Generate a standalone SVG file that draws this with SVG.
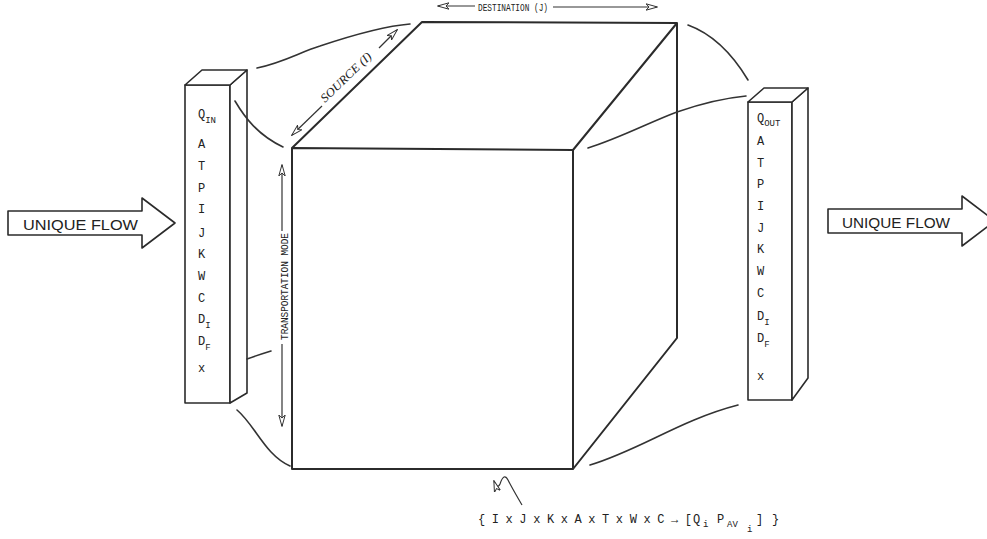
<svg xmlns="http://www.w3.org/2000/svg" width="987" height="539" viewBox="0 0 987 539">
<defs>
<marker id="ah" viewBox="0 0 12 8" refX="11" refY="4" markerWidth="12" markerHeight="8" markerUnits="userSpaceOnUse" orient="auto-start-reverse">
<path d="M0,0.8 L11.5,4 L0,7.2 L3,4 Z" fill="#fff" stroke="#333" stroke-width="1"/>
</marker>
</defs>
<style>
.e{fill:none;stroke:#2b2b2b;stroke-width:2;stroke-linejoin:round}
.b{fill:#fff;stroke:#2b2b2b;stroke-width:1.6;stroke-linejoin:round}
.c{fill:none;stroke:#333;stroke-width:1.6;stroke-linecap:round}
.d{fill:none;stroke:#333;stroke-width:1.2}
.t{font-family:"Liberation Mono",monospace;fill:#222;font-size:12px}
.s{font-size:9px}
.u{font-family:"Liberation Sans",Arial,sans-serif;fill:#222;font-size:15px}
.l{font-family:"Liberation Mono",monospace;fill:#222;font-size:11px}
</style>
<rect width="987" height="539" fill="#fff"/>

<g id="flow-in">
<path class="b" d="M8,211 L142,211 L142,198 L175,223 L142,248 L142,235 L8,235 Z"/>
<text class="u" x="23" y="230" textLength="115" lengthAdjust="spacingAndGlyphs">UNIQUE FLOW</text>
</g>

<g id="flow-out">
<path class="b" d="M828,209 L962,209 L962,196 L995,221 L962,246 L962,233 L828,233 Z"/>
<text class="u" x="842" y="228" textLength="108" lengthAdjust="spacingAndGlyphs">UNIQUE FLOW</text>
</g>

<g id="input-column">
<path class="b" d="M185,85 L230,85 L230,403 L185,403 Z"/>
<path class="b" d="M230,85 L247,70 L247,393 L230,403 Z"/>
<path class="b" d="M185,85 L202,70 L247,70 L230,85 Z"/>
<text class="t" x="198" y="118">Q<tspan class="s" dy="5">IN</tspan></text>
<text class="t" x="198" y="148">A</text>
<text class="t" x="198" y="170">T</text>
<text class="t" x="198" y="192">P</text>
<text class="t" x="198" y="213">I</text>
<text class="t" x="198" y="237">J</text>
<text class="t" x="198" y="258">K</text>
<text class="t" x="198" y="280">W</text>
<text class="t" x="198" y="302">C</text>
<text class="t" x="198" y="323">D<tspan class="s" dy="5">I</tspan></text>
<text class="t" x="198" y="345">D<tspan class="s" dy="5">F</tspan></text>
<text class="t" x="198" y="372">x</text>
</g>

<g id="output-column">
<path class="b" d="M748,102 L792,102 L792,400 L748,400 Z"/>
<path class="b" d="M792,102 L808,88 L808,378 L792,400 Z"/>
<path class="b" d="M748,102 L764,88 L808,88 L792,102 Z"/>
<text class="t" x="757" y="122">Q<tspan class="s" dy="4">OUT</tspan></text>
<text class="t" x="757" y="145">A</text>
<text class="t" x="757" y="167">T</text>
<text class="t" x="757" y="188">P</text>
<text class="t" x="757" y="210">I</text>
<text class="t" x="757" y="232">J</text>
<text class="t" x="757" y="253">K</text>
<text class="t" x="757" y="275">W</text>
<text class="t" x="757" y="297">C</text>
<text class="t" x="757" y="320">D<tspan class="s" dy="5">I</tspan></text>
<text class="t" x="757" y="342">D<tspan class="s" dy="5">F</tspan></text>
<text class="t" x="757" y="380">x</text>
</g>

<g id="cube">
<path class="e" d="M292,148 L573,150 L573,469 L292,469 Z"/>
<path class="e" d="M292,148 L422,22 L677,23 L573,150"/>
<path class="e" d="M677,23 L677,338 L573,469"/>
</g>

<g id="labels">
<text class="l" x="478" y="11" textLength="70" lengthAdjust="spacingAndGlyphs">DESTINATION (J)</text>
<text class="l" transform="translate(288,340) rotate(-90)" x="0" y="0" textLength="107" lengthAdjust="spacingAndGlyphs">TRANSPORTATION MODE</text>
<text transform="translate(325,103) rotate(-44)" x="0" y="0" font-family="Liberation Serif,serif" font-style="italic" font-size="12" fill="#222" textLength="66" lengthAdjust="spacingAndGlyphs">SOURCE (I)</text>
<text class="t" y="523" font-size="12"><tspan x="478" textLength="214" lengthAdjust="spacing">{ I x J x K x A x T x W x C → [</tspan><tspan x="693">Q</tspan><tspan class="s" x="703" dy="4">i</tspan><tspan x="717" dy="-4">P</tspan><tspan class="s" x="727" dy="4">AV</tspan><tspan class="s" x="747" dy="5" font-size="7">i</tspan><tspan x="756" dy="-9">]</tspan><tspan x="772">}</tspan></text>
</g>

<g id="connectors">
<line class="d" x1="475" y1="6" x2="438" y2="6" marker-end="url(#ah)"/>
<line class="d" x1="553" y1="7" x2="657" y2="7" marker-end="url(#ah)"/>
<line class="d" x1="322" y1="106" x2="292" y2="135" marker-end="url(#ah)"/>
<line class="d" x1="379" y1="48" x2="397" y2="30" marker-end="url(#ah)"/>
<line class="d" x1="282" y1="231" x2="282" y2="165" marker-end="url(#ah)"/>
<line class="d" x1="282" y1="344" x2="282" y2="426" marker-end="url(#ah)"/>
<path class="c" d="M257,68 C285,62 300,52 320,46 C350,36 385,26 410,24"/>
<path class="c" d="M235,101 C245,118 258,135 283,147"/>
<path class="c" d="M247,359 Q258,355 271,351"/>
<path class="c" d="M237,410 C255,425 265,455 290,466"/>
<path class="c" d="M688,25 C710,33 730,50 748,80"/>
<path class="c" d="M588,148 C620,138 650,122 677,112 C700,104 725,98 746,96"/>
<path class="c" d="M590,465 C640,450 680,420 738,405"/>
<path class="d" d="M522,505 Q512,488 508,480 Q504,472 500,484 Q497,490 494,481" marker-end="url(#ah)"/>
</g>
</svg>
